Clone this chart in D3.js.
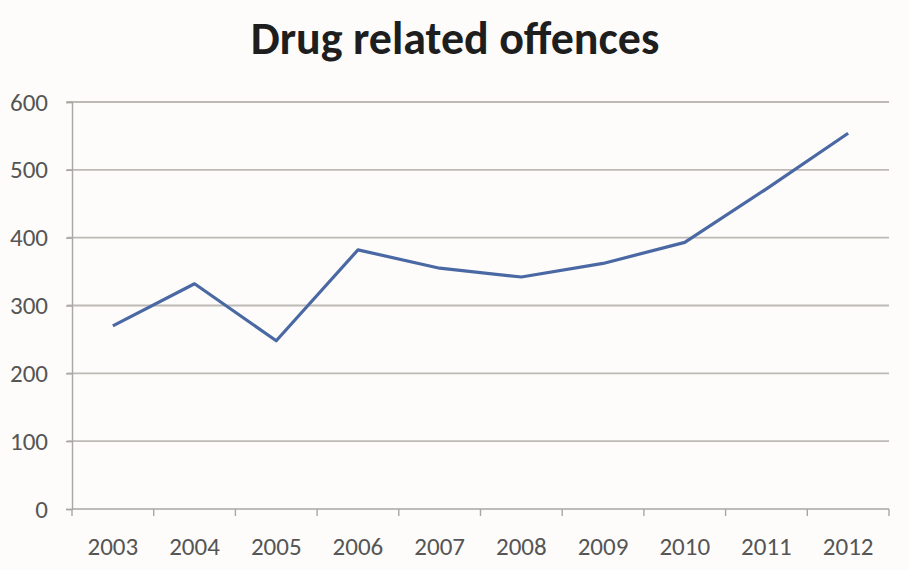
<!DOCTYPE html>
<html>
<head>
<meta charset="utf-8">
<script src="https://cdn.jsdelivr.net/npm/d3@7/dist/d3.min.js"></script>
<style>
  html, body { margin: 0; padding: 0; background: #fdfcfa; }
  svg { display: block; }
</style>
</head>
<body>
<svg id="chart" width="909" height="570"></svg>
<script>
const years = ["2003", "2004", "2005", "2006", "2007", "2008", "2009", "2010", "2011", "2012"];
const offences = [270, 332, 248, 382, 355, 342, 362, 393, 472, 554];
const yTicks = [0, 100, 200, 300, 400, 500, 600];
const titleText = "Drug related offences";

const svg = d3.select("#chart");
const margin = { left: 72, right: 20, top: 102, bottom: 61 };
const W = 909, H = 570;
const labelFont = "Carlito, Lato, 'Open Sans', 'Noto Sans', sans-serif";

const x = d3.scaleBand().domain(years).range([margin.left, W - margin.right]).padding(0);
const y = d3.scaleLinear().domain([0, 600]).range([H - margin.bottom, margin.top]);

svg.append("rect").attr("width", W).attr("height", H).attr("fill", "#fdfcfa");

// horizontal gridlines
svg.append("g")
  .selectAll("line")
  .data(yTicks.filter(d => d > 0))
  .join("line")
  .attr("x1", margin.left - 5)
  .attr("x2", W - margin.right)
  .attr("y1", d => y(d))
  .attr("y2", d => y(d))
  .attr("stroke", "#bdbab6")
  .attr("stroke-width", 1.8);

// y axis
const yAxis = svg.append("g")
  .attr("transform", `translate(${margin.left},0)`)
  .call(d3.axisLeft(y).tickValues(yTicks).tickSize(6).tickPadding(18).tickFormat(d3.format("d")));
yAxis.select(".domain").attr("stroke", "#a9a7a4").attr("stroke-width", 1.4);
yAxis.selectAll(".tick line").attr("stroke", "#a9a7a4").attr("stroke-width", 1.4);
yAxis.selectAll("text")
  .attr("fill", "#555555")
  .style("font-family", labelFont)
  .style("font-size", "25px");

// x axis with tick marks at category boundaries
const xAxisG = svg.append("g").attr("transform", `translate(0,${y(0)})`);
xAxisG.append("line")
  .attr("x1", margin.left).attr("x2", W - margin.right)
  .attr("stroke", "#a9a7a4").attr("stroke-width", 1.6);
const bounds = years.map(d => x(d)).concat([x(years[years.length - 1]) + x.bandwidth()]);
xAxisG.selectAll("line.tk")
  .data(bounds)
  .join("line")
  .attr("class", "tk")
  .attr("x1", d => d).attr("x2", d => d)
  .attr("y1", 0).attr("y2", 7)
  .attr("stroke", "#a9a7a4").attr("stroke-width", 1.4);
xAxisG.selectAll("text")
  .data(years)
  .join("text")
  .attr("x", d => x(d) + x.bandwidth() / 2)
  .attr("y", 46)
  .attr("text-anchor", "middle")
  .attr("fill", "#555555")
  .style("font-family", labelFont)
  .style("font-size", "25px")
  .text(d => d);

// data line
const line = d3.line()
  .x((d, i) => x(years[i]) + x.bandwidth() / 2)
  .y(d => y(d));
svg.append("path")
  .datum(offences)
  .attr("d", line)
  .attr("fill", "none")
  .attr("stroke", "#4a68a3")
  .attr("stroke-width", 3.2)
  .attr("stroke-linejoin", "round")
  .attr("stroke-linecap", "butt");

// title
svg.append("text")
  .attr("x", 455)
  .attr("y", 54)
  .attr("text-anchor", "middle")
  .attr("fill", "#1e1e1e")
  .style("font-family", labelFont)
  .style("font-weight", "bold")
  .style("font-size", "46px")
  .text(titleText);
</script>
</body>
</html>
